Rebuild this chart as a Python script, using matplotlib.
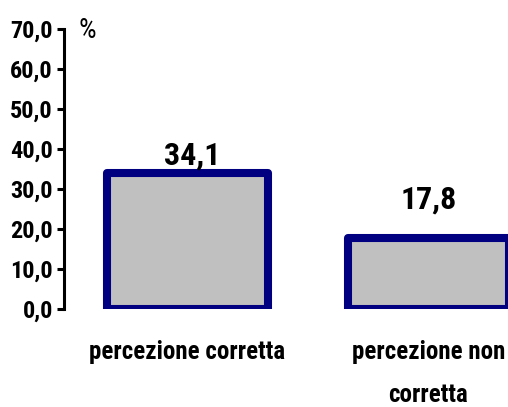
# Bar chart: percezione corretta / non corretta (%)
import matplotlib
matplotlib.use("Agg")
import matplotlib.pyplot as plt
from matplotlib import font_manager

# Data
categories = ["percezione corretta", "percezione non\ncorretta"]
values = [34.1, 17.8]
value_labels = ["34,1", "17,8"]
y_ticks = [0, 10, 20, 30, 40, 50, 60, 70]
y_tick_labels = ["0,0", "10,0", "20,0", "30,0", "40,0", "50,0", "60,0", "70,0"]

# Font: pick a narrow bold family (chart was Arial Narrow), fall back to Liberation Sans
bold_names = {f.name for f in font_manager.fontManager.ttflist
              if f.style == "normal" and f.weight in (700, "bold")}
font = "Liberation Sans"
for cand in ["Arial Narrow", "Liberation Sans Narrow", "Roboto Condensed",
             "Asap Condensed", "Barlow Condensed"]:
    if cand in bold_names:
        font = cand
        break
plt.rcParams["font.family"] = [font, "DejaVu Sans"]

W, H = 508, 407
fig = plt.figure(figsize=(W / 100, H / 100), dpi=100)
ax = fig.add_axes([64 / W, (H - 309) / H, 1 - 64 / W, (309 - 29) / H])

x = list(range(len(categories)))
ax.bar(x, values, width=0.668, color="#C0C0C0", edgecolor="#000080",
       linewidth=5.8, joinstyle="round", zorder=2)

# value labels (Excel placed them at slightly different spots)
offsets = [(5, 8), (0, 29)]  # pixels from bar top centre
for xi, v, lab, (dx, dy) in zip(x, values, value_labels, offsets):
    ax.annotate(lab, (xi, v), xytext=(dx * 0.72, dy * 0.72), textcoords="offset points",
                ha="center", va="baseline", fontsize=23, fontweight="bold",
                annotation_clip=False)

ax.set_xlim(-0.5125, 1.33)
ax.set_ylim(0, 70)
ax.set_yticks(y_ticks)
ax.set_yticklabels(y_tick_labels, fontsize=17.5, fontweight="bold")
ax.set_xticks(x)
ax.set_xticklabels(categories, fontsize=18, fontweight="bold", linespacing=2.0)
ax.tick_params(axis="x", length=0, pad=22.5)
ax.tick_params(axis="y", direction="out", length=5, width=2.2, pad=3)

for s in ["top", "right", "bottom"]:
    ax.spines[s].set_visible(False)
ax.spines["left"].set_linewidth(2.2)

fig.text(79 / W, (H - 38) / H, "%", fontsize=20, va="baseline")

fig.savefig("out.png", dpi=100)
